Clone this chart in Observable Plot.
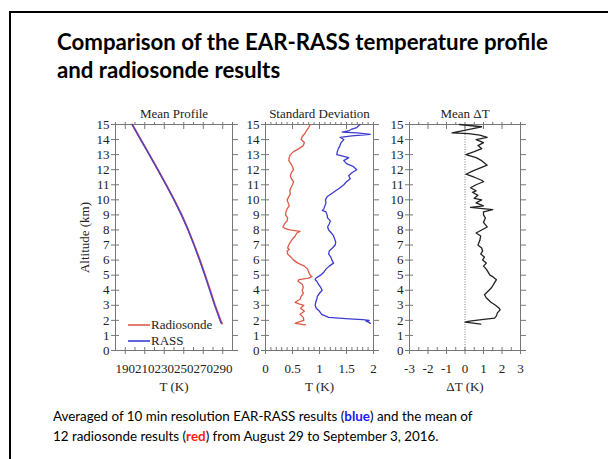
<!DOCTYPE html>
<html>
<head>
<meta charset="utf-8">
<script src="https://cdn.jsdelivr.net/npm/d3@7"></script>
<script src="https://cdn.jsdelivr.net/npm/@observablehq/plot@0.6"></script>
<style>
  html, body { margin: 0; padding: 0; background: #fff; }
  body { width: 608px; height: 459px; position: relative; overflow: hidden; }
  #border { position: absolute; left: 9px; top: 11px; width: 700px; height: 600px; border: 2.5px solid #000; box-sizing: border-box; }
  #title { position: absolute; left: 57px; top: 28px; font-family: Lato, sans-serif; font-weight: 700; font-size: 21px; line-height: 28px; color: #000; white-space: nowrap; }
  #caption { position: absolute; left: 53px; top: 406px; font-family: Lato, sans-serif; font-size: 14px; line-height: 20px; color: #000; white-space: nowrap; }
  #caption .b { color: #1a1aff; font-weight: 700; }
  #caption .r { color: #ff1a1a; font-weight: 700; }
  .panel { position: absolute; top: 95px; }
</style>
</head>
<body>
<div id="border"></div>
<div id="title"><span id="t1">Comparison of the EAR-RASS temperature profile</span><br>and radiosonde results</div>
<div id="panel1" class="panel" style="left:55px"></div>
<div id="panel2" class="panel" style="left:235px"></div>
<div id="panel3" class="panel" style="left:379px"></div>
<div id="caption"><span id="c1">Averaged of 10 min resolution EAR-RASS results (<span class="b">blue</span>) and the mean of</span><br>12 radiosonde results (<span class="r">red</span>) from August 29 to September 3, 2016.</div>
<script>
// ---------- data ----------
const altitudeTicks = [0,1,2,3,4,5,6,7,8,9,10,11,12,13,14,15];
const panelTitles = ["Mean Profile", "Standard Deviation", "Mean \u0394T"];
const xLabels = ["T (K)", "T (K)", "\u0394T (K)"];
const profileTicks = [190,210,230,250,270,290];
const sdTicks = [0,0.5,1,1.5,2];
const dtTicks = [-3,-2,-1,0,1,2,3];
const legendLabels = ["Radiosonde", "RASS"];
const seriesColors = ["#dc5a4a", "#3c3cd2"];

// Mean profile
const profileAlt  = [1.8, 2.0, 2.5, 3.0, 4.0, 5.0, 6.0, 7.0, 8.0, 9.0, 10.0, 11.0, 12.0, 13.0, 14.0, 15.0];
const radiosondeT = [289.3, 287.8, 285.0, 282.1, 277.1, 272.0, 266.6, 260.8, 254.7, 247.9, 240.3, 232.0, 223.5, 214.8, 205.9, 197.2];
const rassT       = [288.6, 287.2, 284.5, 281.7, 276.7, 271.6, 266.2, 260.5, 254.4, 247.6, 240.0, 231.8, 223.3, 214.6, 205.8, 197.0];

// Standard deviation — radiosonde (red)
const sdRadAlt = [15.0,14.8,14.6,14.4,14.2,14.0,13.8,13.6,13.4,13.2,13.0,12.8,12.6,12.4,12.2,12.0,11.8,11.6,11.4,11.2,11.0,10.8,10.6,10.4,10.2,10.0,9.8,9.6,9.4,9.2,9.0,8.8,8.6,8.4,8.2,8.1,8.0,7.9,7.8,7.6,7.4,7.2,7.0,6.8,6.7,6.6,6.4,6.2,6.0,5.8,5.6,5.4,5.2,5.0,4.9,4.8,4.7,4.6,4.4,4.2,4.0,3.8,3.6,3.4,3.2,3.1,3.0,2.8,2.6,2.4,2.2,2.0,1.9,1.8,1.7];
const sdRadVal = [0.83,0.80,0.76,0.73,0.68,0.66,0.72,0.70,0.62,0.52,0.46,0.44,0.43,0.47,0.50,0.52,0.48,0.46,0.48,0.52,0.50,0.47,0.45,0.46,0.43,0.40,0.42,0.44,0.40,0.38,0.37,0.41,0.40,0.35,0.32,0.36,0.45,0.64,0.58,0.55,0.50,0.46,0.43,0.41,0.44,0.40,0.41,0.47,0.52,0.60,0.72,0.78,0.80,0.83,0.86,0.80,0.62,0.60,0.68,0.70,0.68,0.70,0.66,0.64,0.55,0.62,0.71,0.65,0.72,0.64,0.70,0.71,0.62,0.55,0.74];

// Standard deviation — RASS (blue)
const sdRassAlt = [15.0,14.9,14.8,14.7,14.6,14.5,14.45,14.35,14.25,14.15,14.0,13.8,13.6,13.4,13.2,13.0,12.8,12.6,12.4,12.2,12.0,11.8,11.6,11.4,11.2,11.0,10.8,10.6,10.4,10.2,10.0,9.8,9.6,9.4,9.3,9.2,9.0,8.8,8.6,8.4,8.2,8.0,7.8,7.6,7.4,7.2,7.0,6.8,6.6,6.4,6.2,6.0,5.8,5.6,5.4,5.2,5.0,4.8,4.7,4.6,4.4,4.2,4.0,3.8,3.6,3.4,3.2,3.0,2.8,2.6,2.4,2.2,2.1,2.05,2.0,1.95,1.9,1.8];
const sdRassVal = [1.75,1.72,1.69,1.60,1.55,1.42,1.70,1.94,1.60,1.38,1.45,1.40,1.38,1.35,1.33,1.32,1.54,1.45,1.50,1.63,1.69,1.60,1.54,1.57,1.50,1.45,1.38,1.30,1.22,1.14,1.11,1.12,1.10,1.08,1.05,1.12,1.14,1.15,1.20,1.18,1.15,1.17,1.22,1.26,1.28,1.30,1.29,1.24,1.18,1.17,1.21,1.23,1.26,1.18,1.12,1.08,1.02,0.93,0.92,0.95,0.98,1.02,1.05,1.00,0.96,0.95,0.93,0.92,0.94,1.00,1.04,1.17,1.55,1.80,1.92,1.86,1.90,1.94];

// Mean ΔT (black)
const dtAlt = [15.0,14.85,14.7,14.6,14.45,14.4,14.3,14.15,14.0,13.8,13.6,13.4,13.2,13.0,12.8,12.6,12.4,12.3,12.1,11.9,11.7,11.5,11.3,11.2,11.0,10.8,10.6,10.5,10.3,10.1,10.0,9.8,9.6,9.5,9.35,9.2,9.0,8.8,8.5,8.2,8.0,7.8,7.6,7.3,7.0,6.8,6.6,6.4,6.2,6.0,5.8,5.6,5.4,5.2,5.0,4.9,4.7,4.5,4.2,4.0,3.7,3.5,3.2,3.0,2.8,2.7,2.5,2.3,2.15,2.05,1.95,1.88,1.82,1.75];
const dtVal = [-0.3,0.9,0.3,-0.1,-0.7,0.2,0.8,1.2,0.6,1.0,0.7,0.9,0.5,0.05,0.6,0.9,1.1,1.2,0.8,0.4,0.05,0.5,0.9,1.0,0.6,0.3,0.6,0.4,0.7,0.5,0.9,0.6,1.0,0.3,1.5,1.0,1.0,1.1,1.0,1.2,0.9,0.6,0.85,0.8,0.7,0.9,0.95,0.85,1.05,0.95,1.15,1.0,1.15,1.25,1.35,1.5,1.7,1.6,1.45,1.3,1.05,1.15,1.4,1.65,1.85,1.9,1.75,1.7,1.6,0.9,0.25,0.0,0.45,0.85];

// ---------- helpers ----------
const zip = (alt, val) => alt.map((a, i) => ({alt: a, val: val[i]}));
const frameColor = "#777";
const serif = "'Liberation Serif', 'Times New Roman', serif";

function panel({title, xLabel, xDomain, xTicks, xMinor, width, marginLeft, marginRight, yLabel, marks}) {
  return Plot.plot({
    width, height: 305,
    marginLeft, marginRight, marginTop: 29, marginBottom: 50,
    style: {fontFamily: serif, fontSize: "13px", color: "#222", background: "transparent", overflow: "visible"},
    x: {domain: xDomain},
    y: {domain: [0, 15]},
    marks: [
      Plot.frame({stroke: frameColor}),
      Plot.axisY({anchor: "left", ticks: altitudeTicks, tickFormat: d => String(d), tickSize: 4, tickPadding: 2, stroke: frameColor,
        label: yLabel, labelAnchor: "center", labelArrow: "none", labelOffset: 36, fontSize: 13}),
      Plot.axisY({anchor: "left", ticks: altitudeTicks, tickSize: -4, text: null, label: null, stroke: frameColor}),
      Plot.axisY({anchor: "right", ticks: altitudeTicks, tickSize: 5, text: null, label: null, stroke: frameColor}),
      Plot.axisX({anchor: "bottom", ticks: xTicks, tickFormat: d => String(d), tickSize: 4, tickPadding: 9, stroke: frameColor,
        label: xLabel, labelAnchor: "center", labelArrow: "none", labelOffset: 40, fontSize: 13}),
      Plot.axisX({anchor: "bottom", ticks: xMinor, tickSize: -3, text: null, label: null, stroke: frameColor}),
      Plot.axisX({anchor: "top", ticks: xMinor, tickSize: 3, text: null, label: null, stroke: frameColor}),
      Plot.axisX({anchor: "top", ticks: xTicks, tickSize: -4, text: null, label: null, stroke: frameColor}),
      Plot.text([title], {frameAnchor: "top", dy: -16, fontSize: 13, fill: "#222"}),
      ...marks
    ]
  });
}

// ---------- panel 1 ----------
const legendMark = (index, scales, values, dims) => {
  const g = d3.create("svg:g")
    .attr("font-family", serif)
    .attr("font-size", 13)
    .attr("text-anchor", "start");
  const x0 = dims.marginLeft + 13;
  const y0 = dims.height - dims.marginBottom - 25;
  legendLabels.forEach((lab, i) => {
    g.append("line").attr("x1", x0).attr("x2", x0 + 22)
      .attr("y1", y0 + 16 * i).attr("y2", y0 + 16 * i)
      .attr("stroke", seriesColors[i]).attr("stroke-width", 1.6);
    g.append("text").attr("x", x0 + 23).attr("y", y0 + 16 * i).attr("dy", "0.32em")
      .attr("text-anchor", "start").attr("fill", "#222").text(lab);
  });
  return g.node();
};

document.getElementById("panel1").append(panel({
  title: panelTitles[0], xLabel: xLabels[0], xDomain: [180, 300],
  xTicks: profileTicks, xMinor: d3.range(180, 301, 10),
  width: 192, marginLeft: 60, marginRight: 15, yLabel: "Altitude (km)",
  marks: [
    Plot.line(zip(profileAlt, radiosondeT), {x: "val", y: "alt", stroke: seriesColors[0], strokeWidth: 1.8}),
    Plot.line(zip(profileAlt, rassT), {x: "val", y: "alt", stroke: seriesColors[1], strokeWidth: 1.5, strokeOpacity: 0.85}),
    legendMark
  ]
}));

// ---------- panel 2 ----------
document.getElementById("panel2").append(panel({
  title: panelTitles[1], xLabel: xLabels[1], xDomain: [0, 2],
  xTicks: sdTicks, xMinor: d3.range(0, 2.001, 0.1),
  width: 150, marginLeft: 30, marginRight: 12, yLabel: null,
  marks: [
    Plot.line(zip(sdRadAlt, sdRadVal), {x: "val", y: "alt", stroke: seriesColors[0], strokeWidth: 1.3}),
    Plot.line(zip(sdRassAlt, sdRassVal), {x: "val", y: "alt", stroke: seriesColors[1], strokeWidth: 1.3})
  ]
}));

// ---------- panel 3 ----------
document.getElementById("panel3").append(panel({
  title: panelTitles[2], xLabel: xLabels[2], xDomain: [-3, 3],
  xTicks: dtTicks, xMinor: d3.range(-3, 3.001, 0.5),
  width: 153, marginLeft: 30, marginRight: 12, yLabel: null,
  marks: [
    Plot.ruleX([0], {stroke: "#777", strokeDasharray: "1,1.5"}),
    Plot.line(zip(dtAlt, dtVal), {x: "val", y: "alt", stroke: "#222", strokeWidth: 1.3})
  ]
}));

// ---------- fit text widths to the reference ----------
function fit(blockId, lineId, target) {
  const block = document.getElementById(blockId);
  const line = document.getElementById(lineId);
  const fs = parseFloat(getComputedStyle(block).fontSize);
  const w = line.getBoundingClientRect().width;
  if (w > 0) block.style.fontSize = (fs * target / w).toFixed(2) + "px";
}
fit("title", "t1", 491);
fit("caption", "c1", 420);
</script>
</body>
</html>
